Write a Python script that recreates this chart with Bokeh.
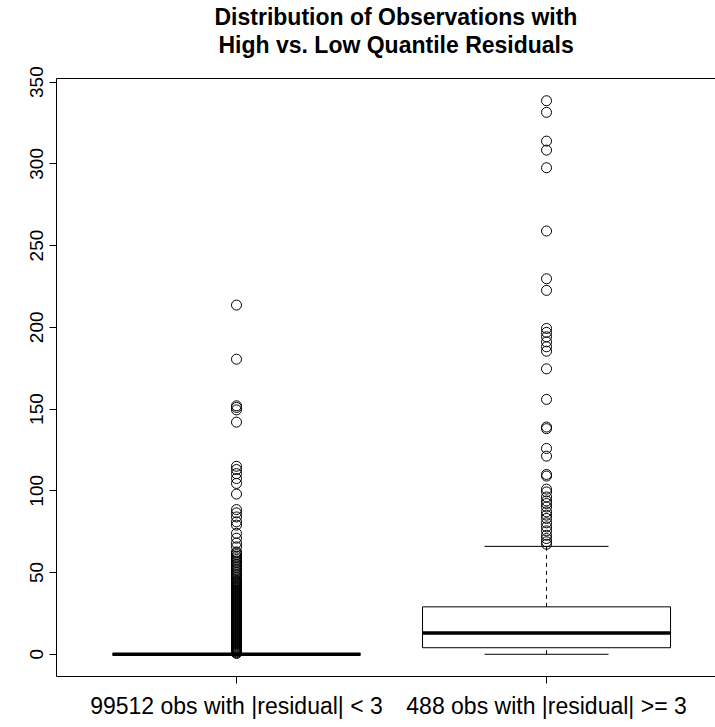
from bokeh.plotting import figure
from bokeh.models import LinearAxis, FixedTicker, Range1d, Title, ColumnDataSource
from bokeh.embed import file_html
from bokeh.resources import INLINE

# ---- data ----
categories = ["99512 obs with |residual| < 3", "488 obs with |residual| >= 3"]
positions = [1, 2]
lower_whisker = [0, 0]
q1 = [0, 4]
median = [0, 13]
q3 = [0, 29]
upper_whisker = [0, 66]

outliers_low = [213.6, 180.5, 152, 151, 149.5, 142, 115, 113, 110.5, 107.5, 104.5, 98,
                88.5, 86.5, 84, 81, 79, 74, 71, 68, 65.7, 62.6,
                62, 61, 60, 59, 58, 57, 56, 55, 54, 53, 52, 51, 50, 49, 48, 47, 46, 45,
                44.5, 44, 43.5, 43, 42.5, 42, 41.5, 41, 40.5, 40, 39.5, 39, 38.5, 38,
                37.5, 37, 36.5, 36, 35.5, 35, 34.5, 34, 33.5, 33, 32.5, 32, 31.5, 31,
                30.5, 30, 29.5, 29, 28.5, 28, 27.5, 27, 26.5, 26, 25.5, 25, 24.5, 24,
                23.5, 23, 22.5, 22, 21.5, 21, 20.5, 20, 19.5, 19, 18.5, 18, 17.5, 17,
                16.5, 16, 15.5, 15, 14.5, 14, 13.5, 13, 12.5, 12, 11.5, 11, 10.5, 10,
                9.5, 9, 8.5, 8, 7.5, 7, 6.5, 6, 5.5, 5, 4.5, 4, 3.5, 3, 2.5, 2, 1.5, 1, 0.5]
outliers_high = [338.6, 331.5, 313.9, 308.4, 297.6, 258.9, 229.7, 222.6,
                 199.3, 196.9, 194.2, 191.1, 188.1, 185.4, 174.6, 155.9,
                 139, 138, 125.9, 121.2, 110, 109,
                 101, 99.3, 96.2, 93.8, 92.2, 90.1, 87.1, 85.1, 83.1, 80.4,
                 77.9, 75.5, 72.8, 70.8, 68.8, 67.3]

y_ticks = [0, 50, 100, 150, 200, 250, 300, 350]
title_lines = ["Distribution of Observations with", " High vs. Low Quantile Residuals"]

FONT = "Liberation Sans"
BOXWEX = 0.8

p = figure(width=715, height=727, output_backend="svg", toolbar_location=None,
           x_range=Range1d(0.4194, 2.545), y_range=Range1d(-13.6, 352.2),
           x_axis_type=None, y_axis_type=None,
           min_border_left=56, min_border_right=0, min_border_top=78, min_border_bottom=51)
p.title.visible = False
p.outline_line_color = None
p.xgrid.visible = False
p.ygrid.visible = False
p.background_fill_color = "white"
p.border_fill_color = "white"

# axes
yax = LinearAxis(ticker=FixedTicker(ticks=y_ticks))
yax.major_label_orientation = "parallel"
yax.major_tick_out = 7
yax.major_tick_in = 0
yax.minor_tick_out = 0
yax.minor_tick_in = 0
yax.major_label_standoff = 6
yax.major_label_text_font = FONT
yax.major_label_text_font_size = "19px"
yax.major_label_text_color = "black"
yax.axis_line_color = "black"
yax.major_tick_line_color = "black"
p.add_layout(yax, "left")

xax = LinearAxis(ticker=FixedTicker(ticks=positions))
xax.major_label_overrides = {pos: c for pos, c in zip(positions, categories)}
xax.major_tick_out = 7
xax.major_tick_in = 0
xax.minor_tick_out = 0
xax.minor_tick_in = 0
xax.major_label_standoff = 9
xax.major_label_text_font = FONT
xax.major_label_text_font_size = "23px"
xax.major_label_text_color = "black"
xax.axis_line_color = "black"
xax.major_tick_line_color = "black"
p.add_layout(xax, "below")

# top edge of the plot box; invisible ticks reserve the gap under the title
top = LinearAxis(ticker=FixedTicker(ticks=positions))
top.major_label_overrides = {pos: "" for pos in positions}
top.major_label_standoff = 0
top.major_tick_out = 21
top.major_tick_in = 0
top.major_tick_line_color = None
top.minor_tick_out = 0
top.minor_tick_in = 0
top.axis_line_color = "black"
p.add_layout(top, "above")

# boxes
src = ColumnDataSource(dict(x=positions, q1=q1, q3=q3, med=median, lo=lower_whisker, hi=upper_whisker,
                            x0=[x - BOXWEX / 2 for x in positions], x1=[x + BOXWEX / 2 for x in positions],
                            c0=[x - BOXWEX / 4 for x in positions], c1=[x + BOXWEX / 4 for x in positions]))
p.segment(x0="x", y0="q3", x1="x", y1="hi", source=src, line_color="black", line_dash="4 4", line_width=1)
p.segment(x0="x", y0="lo", x1="x", y1="q1", source=src, line_color="black", line_dash="4 4", line_width=1)
p.segment(x0="c0", y0="hi", x1="c1", y1="hi", source=src, line_color="black", line_width=1)
p.segment(x0="c0", y0="lo", x1="c1", y1="lo", source=src, line_color="black", line_width=1)
p.quad(left="x0", right="x1", bottom="q1", top="q3", source=src, fill_color="white",
       line_color="black", line_width=1)
p.segment(x0="x0", y0="med", x1="x1", y1="med", source=src, line_color="black", line_width=3.5)

p.scatter([positions[0]] * len(outliers_low), outliers_low, marker="circle", size=10,
          fill_color=None, line_color="black", line_width=1)
p.scatter([positions[1]] * len(outliers_high), outliers_high, marker="circle", size=10,
          fill_color=None, line_color="black", line_width=1)

# title: second line first (closest to the frame), then first line above it
for t, so, off in ((title_lines[1], 0, 162), (title_lines[0], 0, 158)):
    p.add_layout(Title(text=t.strip(), align="left", offset=off, standoff=so, text_font=FONT,
                       text_font_size="23px", text_font_style="bold", text_color="black"), "above")

open("out.html", "w").write(file_html(p, INLINE))
